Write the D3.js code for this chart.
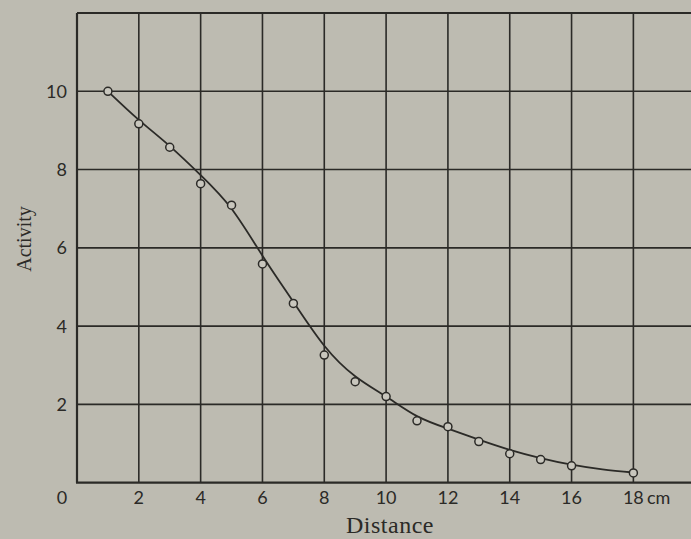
<!DOCTYPE html>
<html>
<head>
<meta charset="utf-8">
<script src="https://cdn.jsdelivr.net/npm/d3@7"></script>
<style>
  html, body { margin: 0; padding: 0; background: #bdbbb1; }
  svg { display: block; }
</style>
</head>
<body>
<script>
// ---- data ----
const distance = [1, 2, 3, 4, 5, 6, 7, 8, 9, 10, 11, 12, 13, 14, 15, 16, 18];
const activity = [10, 9.17, 8.57, 7.64, 7.09, 5.59, 4.58, 3.26, 2.58, 2.2, 1.58, 1.43, 1.05, 0.74, 0.59, 0.43, 0.25];
const curveX = [1, 2, 3, 4, 5, 6, 7, 8, 9, 10, 11, 12, 13, 14, 15, 16, 17, 18];
const curveY = [10, 9.27, 8.6, 7.86, 7.0, 5.8, 4.62, 3.5, 2.72, 2.2, 1.7, 1.38, 1.1, 0.84, 0.63, 0.46, 0.34, 0.26];
const xTicks = [2, 4, 6, 8, 10, 12, 14, 16, 18];
const yTicks = [2, 4, 6, 8, 10];
const xGrid = [2, 4, 6, 8, 10, 12, 14, 16, 18, 20];
const yGrid = [2, 4, 6, 8, 10, 12];

const W = 691, H = 539;
const ink = "#2b2a27";
const bg = "#bdbbb1";

const x = d3.scaleLinear().domain([0, 20]).range([77, 695.2]);
const y = d3.scaleLinear().domain([0, 12]).range([482.7, 13]);

const svg = d3.select("body").append("svg").attr("width", W).attr("height", H);
svg.append("rect").attr("width", W).attr("height", H).attr("fill", bg);

// grid
const g = svg.append("g");
g.selectAll("line.v").data(xGrid).join("line")
  .attr("x1", d => x(d)).attr("x2", d => x(d))
  .attr("y1", y(0)).attr("y2", y(12))
  .attr("stroke", ink).attr("stroke-width", 1.6);
g.selectAll("line.h").data(yGrid).join("line")
  .attr("x1", x(0)).attr("x2", x(20))
  .attr("y1", d => y(d)).attr("y2", d => y(d))
  .attr("stroke", ink).attr("stroke-width", d => d === 12 ? 2 : 1.6);
// axes frame
g.append("line").attr("x1", x(0)).attr("x2", x(0)).attr("y1", y(0)).attr("y2", y(12))
  .attr("stroke", ink).attr("stroke-width", 2.2);
g.append("line").attr("x1", x(0) - 1).attr("x2", x(20)).attr("y1", y(0)).attr("y2", y(0))
  .attr("stroke", ink).attr("stroke-width", 2.2);

// tick labels
const tickFont = "Lato, 'Open Sans', sans-serif";
svg.append("g").selectAll("text").data(xTicks).join("text")
  .attr("x", d => x(d)).attr("y", 504)
  .attr("text-anchor", "middle")
  .attr("font-family", tickFont).attr("font-size", 18).attr("fill", ink)
  .text(d => d);
svg.append("text").attr("x", 647).attr("y", 504)
  .attr("font-family", tickFont).attr("font-size", 18).attr("fill", ink).text("cm");
svg.append("text").attr("x", 62).attr("y", 504).attr("text-anchor", "middle")
  .attr("font-family", tickFont).attr("font-size", 18).attr("fill", ink).text("0");
svg.append("g").selectAll("text").data(yTicks).join("text")
  .attr("x", 67).attr("y", d => y(d) + 6.5)
  .attr("text-anchor", "end")
  .attr("font-family", tickFont).attr("font-size", 18).attr("fill", ink)
  .text(d => d);

// axis titles
const serif = "'Liberation Serif', 'DejaVu Serif', serif";
svg.append("text").attr("x", 390).attr("y", 533).attr("text-anchor", "middle")
  .attr("font-family", serif).attr("font-size", 24).attr("fill", ink)
  .attr("letter-spacing", 0.5)
  .text("Distance");
svg.append("text").attr("transform", "translate(31,239) rotate(-90)")
  .attr("text-anchor", "middle")
  .attr("font-family", serif).attr("font-size", 20).attr("fill", ink)
  .text("Activity");

// fitted curve
const line = d3.line().x(d => x(d[0])).y(d => y(d[1])).curve(d3.curveNatural);
svg.append("path").datum(curveX.map((d, i) => [d, curveY[i]]))
  .attr("d", line).attr("fill", "none").attr("stroke", ink).attr("stroke-width", 1.8);

// points
svg.append("g").selectAll("circle").data(distance).join("circle")
  .attr("cx", d => x(d)).attr("cy", (d, i) => y(activity[i]))
  .attr("r", 4).attr("fill", "#c8c6bd").attr("stroke", ink).attr("stroke-width", 1.5);
</script>
</body>
</html>
